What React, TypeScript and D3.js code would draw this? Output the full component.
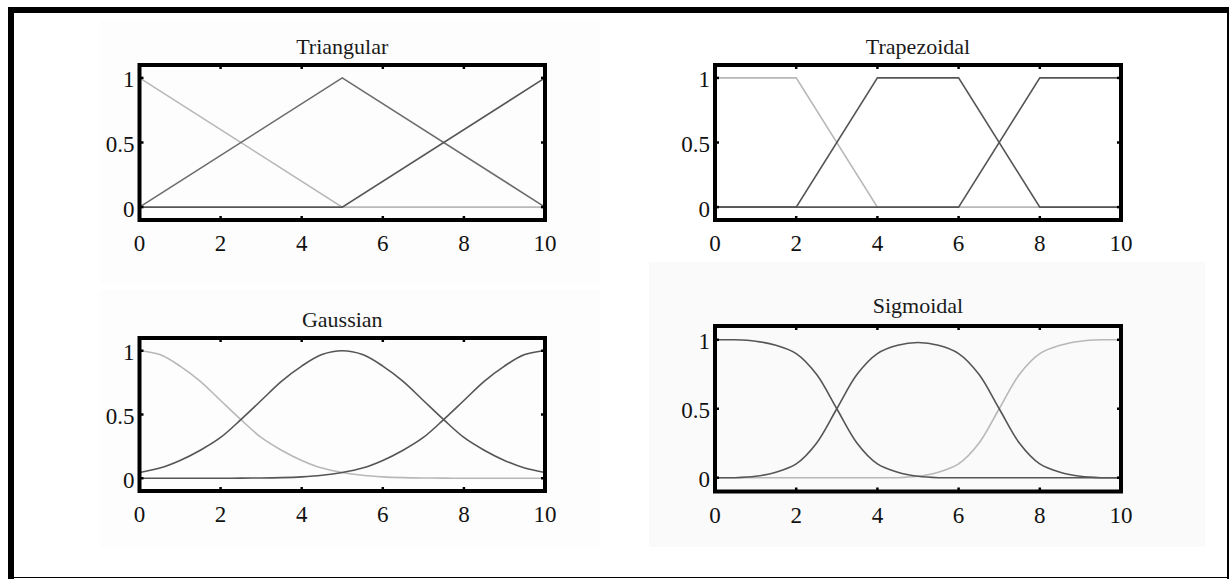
import React from 'react';
import * as d3 from 'd3';

// Axis ticks shared by all four subplots
const xTicks = [0, 2, 4, 6, 8, 10];
const yTicks = [0, 0.5, 1];
const yTickLabels = ['0', '0.5', '1'];

// Triangular membership functions (breakpoints)
const triX = [0, 5, 10];
const triLow = [1, 0, 0];
const triMid = [0, 1, 0];
const triHigh = [0, 0, 1];

// Trapezoidal membership functions (breakpoints)
const trapX = [0, 2, 4, 6, 8, 10];
const trapLow = [1, 1, 0, 0, 0, 0];
const trapMid = [0, 0, 1, 1, 0, 0];
const trapHigh = [0, 0, 0, 0, 1, 1];

// Sample grid for the smooth functions
const smoothX = [0, 0.5, 1, 1.5, 2, 2.5, 3, 3.5, 4, 4.5, 5, 5.5, 6, 6.5, 7, 7.5, 8, 8.5, 9, 9.5, 10];

// Gaussian membership functions
const gaussLow = [1, 0.97, 0.88, 0.76, 0.61, 0.46, 0.32, 0.22, 0.14, 0.08, 0.045, 0.023, 0.011, 0.005, 0.002, 0.001, 0, 0, 0, 0, 0];
const gaussMid = [0.045, 0.08, 0.14, 0.22, 0.32, 0.46, 0.61, 0.76, 0.88, 0.97, 1, 0.97, 0.88, 0.76, 0.61, 0.46, 0.32, 0.22, 0.14, 0.08, 0.045];
const gaussHigh = [0, 0, 0, 0, 0, 0.001, 0.002, 0.005, 0.011, 0.023, 0.045, 0.08, 0.14, 0.22, 0.32, 0.46, 0.61, 0.76, 0.88, 0.97, 1];

// Sigmoidal membership functions
const sigLow = [1, 1, 0.99, 0.96, 0.9, 0.75, 0.5, 0.25, 0.1, 0.04, 0.01, 0, 0, 0, 0, 0, 0, 0, 0, 0, 0];
const sigMid = [0, 0, 0.01, 0.04, 0.1, 0.25, 0.5, 0.75, 0.9, 0.96, 0.98, 0.96, 0.9, 0.75, 0.5, 0.25, 0.1, 0.04, 0.01, 0, 0];
const sigHigh = [0, 0, 0, 0, 0, 0, 0, 0, 0, 0, 0.01, 0.04, 0.1, 0.25, 0.5, 0.75, 0.9, 0.96, 0.99, 1, 1];

const LIGHT = '#b8b8b8';
const MID = '#6c6c6c';
const DARK = '#555555';

type Series = { x: number[]; y: number[]; color: string };
type Panel = {
  title: string;
  left: number;
  right: number;
  top: number;
  bottom: number;
  titleY: number;
  smooth: boolean;
  series: Series[];
};

const panels: Panel[] = [
  {
    title: 'Triangular', left: 139.5, right: 545, top: 65, bottom: 220, titleY: 54, smooth: false,
    series: [
      { x: triX, y: triLow, color: LIGHT },
      { x: triX, y: triMid, color: MID },
      { x: triX, y: triHigh, color: DARK },
    ],
  },
  {
    title: 'Trapezoidal', left: 715, right: 1121, top: 65, bottom: 220, titleY: 54, smooth: false,
    series: [
      { x: trapX, y: trapLow, color: LIGHT },
      { x: trapX, y: trapMid, color: DARK },
      { x: trapX, y: trapHigh, color: DARK },
    ],
  },
  {
    title: 'Gaussian', left: 139.5, right: 545, top: 338, bottom: 491, titleY: 327, smooth: true,
    series: [
      { x: smoothX, y: gaussLow, color: LIGHT },
      { x: smoothX, y: gaussMid, color: DARK },
      { x: smoothX, y: gaussHigh, color: DARK },
    ],
  },
  {
    title: 'Sigmoidal', left: 715, right: 1121, top: 326, bottom: 491.5, titleY: 313, smooth: true,
    series: [
      { x: smoothX, y: sigHigh, color: LIGHT },
      { x: smoothX, y: sigLow, color: DARK },
      { x: smoothX, y: sigMid, color: DARK },
    ],
  },
];

const FONT = '"Liberation Serif", "Times New Roman", serif';

function Subplot({ p }: { p: Panel }) {
  const x = d3.scaleLinear().domain([0, 10]).range([p.left, p.right]);
  const y = d3.scaleLinear().domain([-0.1, 1.1]).range([p.bottom, p.top]);
  const tickLen = 4;
  return (
    <g>
      <text x={(p.left + p.right) / 2} y={p.titleY} textAnchor="middle" fontFamily={FONT} fontSize={22} fill="#1a1a1a">
        {p.title}
      </text>
      {p.series.map((s, i) => {
        const pts: [number, number][] = s.x.map((v, k) => [v, s.y[k]]);
        const line = d3
          .line<[number, number]>()
          .x((d) => x(d[0]))
          .y((d) => y(d[1]))
          .curve(p.smooth ? d3.curveCatmullRom.alpha(0.5) : d3.curveLinear);
        return <path key={i} d={line(pts) || ''} fill="none" stroke={s.color} strokeWidth={1.6} />;
      })}
      {xTicks.map((t) => (
        <g key={'x' + t}>
          <line x1={x(t)} x2={x(t)} y1={p.bottom} y2={p.bottom - tickLen} stroke="#000" strokeWidth={2.5} />
          <line x1={x(t)} x2={x(t)} y1={p.top} y2={p.top + tickLen} stroke="#000" strokeWidth={2.5} />
          <text x={x(t)} y={p.bottom + 31} textAnchor="middle" fontFamily={FONT} fontSize={23} fill="#111">
            {String(t)}
          </text>
        </g>
      ))}
      {yTicks.map((t, i) => (
        <g key={'y' + t}>
          <line x1={p.left} x2={p.left + tickLen} y1={y(t)} y2={y(t)} stroke="#000" strokeWidth={2.5} />
          <line x1={p.right} x2={p.right - tickLen} y1={y(t)} y2={y(t)} stroke="#000" strokeWidth={2.5} />
          <text x={p.left - 5} y={y(t) + 2} textAnchor="end" dominantBaseline="central" fontFamily={FONT} fontSize={23} fill="#111">
            {yTickLabels[i]}
          </text>
        </g>
      ))}
      <rect x={p.left} y={p.top} width={p.right - p.left} height={p.bottom - p.top} fill="none" stroke="#000" strokeWidth={4} />
    </g>
  );
}

export default function App() {
  return (
    <svg width={1229} height={579} style={{ position: 'absolute', left: 0, top: 0, background: '#fff' }}>
      <rect x={0} y={0} width={1229} height={579} fill="#fff" />
      {/* faint figure backgrounds */}
      <rect x={100} y={20} width={500} height={263} fill="#fdfdfd" />
      <rect x={100} y={290} width={500} height={257} fill="#fdfdfd" />
      <rect x={649} y={262} width={556} height={285} fill="#fafafa" />
      {panels.map((p) => (
        <Subplot key={p.title} p={p} />
      ))}
      {/* outer frame */}
      <rect x={8} y={7} width={1221} height={6} fill="#000" />
      <rect x={8} y={7} width={6} height={572} fill="#000" />
      <rect x={1227} y={7} width={2} height={572} fill="#000" />
      <rect x={8} y={577} width={1221} height={1} fill="#000" />
    </svg>
  );
}
